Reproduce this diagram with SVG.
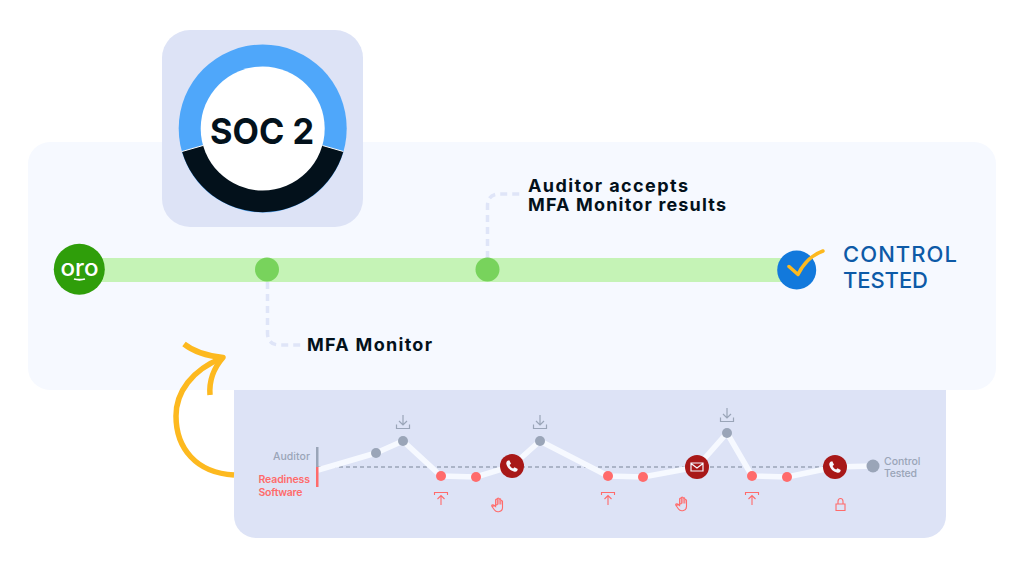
<svg xmlns="http://www.w3.org/2000/svg" width="1024" height="576" viewBox="0 0 1024 576">
<style>
text{font-family:"Inter","Liberation Sans",sans-serif}
.lab{font-size:18px;font-weight:700;fill:#03111b}
.ctl{font-size:22px;font-weight:500;fill:#0d5aa7}
.g{font-size:10.500px;font-weight:500;fill:#9aa5b8}
.r{font-size:10.500px;font-weight:600;fill:#ff6b6b}
.dash{fill:none;stroke:#dfe5f8;stroke-width:3.500;stroke-dasharray:7 5}
.wl{fill:none;stroke:#f6f9ff;stroke-width:5.500;stroke-linejoin:round}
.gd{fill:#9aa5b8}.rd{fill:#ff6b6b}.dr{fill:#a81818}.gn{fill:#78d35c}
.ig{fill:none;stroke:#9aa5b8;stroke-width:1.200}
.ir{fill:none;stroke:#ff6b6b;stroke-width:1.100}
.iw{fill:none;stroke:#f6f9ff;stroke-width:1.200}
</style>
<defs>
<g id="dl"><path d="M-6.500 2.500V6.500H6.500V2.500M0 -7V3M-4 -1L0 3L4 -1"/></g>
<g id="ul"><path d="M-6.500 -3.500V-6H6.500V-3.500M0 6.500V-3M-3.500 0.500L0 -3L3.500 0.500"/></g>
<g id="hand"><path d="M-5 1.500L-2.500 5C-1.500 6.500 0.500 7 2.500 6.500C4.500 6 5.500 4.500 5.500 2.500V-3.500C5.500 -4.800 3.800 -4.800 3.800 -3.500V-0.500M3.800 -0.500V-5.200C3.800 -6.400 2 -6.400 2 -5.200V-0.500M2 -0.500V-6C2 -7.300 0.300 -7.300 0.300 -6V-0.500M0.300 -0.500V-5C0.300 -6.200 -1.400 -6.200 -1.400 -5V1.500L-3.300 0C-4.500 -0.800 -5.800 0.300 -5 1.500Z"/></g>
<path id="ph" d="M-4.500 -5.200L-2.700 -5.800L-1 -2.300L-2.400 -1C-1.600 0.800 -0.600 1.800 1.200 2.500L2.500 1.200L5.800 3L5.200 4.800C4.600 5.800 3.200 6 1.800 5.600C-2 4.500 -4.600 1.800 -5.600 -1.800C-6 -3.200 -5.500 -4.400 -4.500 -5.200Z" fill="#f6f9ff"/>
</defs>

<g id="main-panel"><rect x="28" y="142" width="968" height="248" rx="22" fill="#f6f9ff"/></g>
<g id="chart-panel"><path d="M234 390H946V516A22 22 0 0 1 924 538H256A22 22 0 0 1 234 516Z" fill="#dde3f6"/></g>

<g id="soc2">
<rect x="162" y="30" width="201" height="197" rx="28" fill="#dde3f6"/>
<circle cx="262.700" cy="128.500" r="84" fill="#4fa7fa"/>
<path d="M182 151.500A84 84 0 0 0 343.400 151.500L322.500 145.500H202.900Z" fill="#03111b"/>
<path d="M182 151.500L203 145.500M343.400 151.500L322.500 145.500" stroke="#fff" stroke-width="1"/>
<circle cx="262.700" cy="128.500" r="62" fill="#fff"/>
<text x="262" y="144" text-anchor="middle" font-size="36" font-weight="700" fill="#03111b" textLength="104" lengthAdjust="spacingAndGlyphs">SOC 2</text>
</g>

<g id="connectors">
<rect x="100" y="258" width="690" height="24" fill="#c5f3b6"/>
<path class="dash" d="M267.500 282V333Q267.500 345 280 345H303"/>
<path class="dash" d="M487.500 258V206Q487.500 194 500 194H523"/>
<path d="M234 475C196 473 176 448 176 416C176 392 192 370 222 358" fill="none" stroke="#fdb91f" stroke-width="5.500"/>
<path d="M184 344C194 352 208 356 223 357.500C212 370 209 382 210 395" fill="none" stroke="#fdb91f" stroke-width="5.500" stroke-linejoin="round"/>
<path d="M318 467H850" fill="none" stroke="#9aa5b8" stroke-width="1.500" stroke-dasharray="4 3"/>
<polyline class="wl" points="318,470 376,453 403,441 441,476 476,477 512,466 540,441 608,476 643,477 697,467 727,433 752,476 787,477 835,467 873,466"/>
</g>

<g id="oro">
<circle cx="79.300" cy="269.300" r="25.500" fill="#2f9e0a"/>
<text x="79.500" y="275.500" text-anchor="middle" font-size="23" font-weight="500" fill="#fff" textLength="38" lengthAdjust="spacingAndGlyphs">oro</text>
<path d="M74 279Q79.500 280.500 85 279" fill="none" stroke="#fff" stroke-width="1.800"/>
</g>
<g id="step-mfa"><circle class="gn" cx="267" cy="269.500" r="12"/><text class="lab" x="307" y="351" textLength="125">MFA Monitor</text></g>
<g id="step-auditor"><circle class="gn" cx="487.500" cy="269.500" r="12"/><text class="lab" x="528" y="192" textLength="160">Auditor accepts</text><text class="lab" x="528" y="211" textLength="198">MFA Monitor results</text></g>
<g id="control-tested">
<circle cx="796.700" cy="270" r="19.500" fill="#1279dc"/>
<path d="M789 266.500L798 274.500C804 262 812 255 823 251" fill="none" stroke="#fdb91f" stroke-width="3.500" stroke-linecap="round" stroke-linejoin="round"/>
<text class="ctl" x="843" y="262" textLength="114">CONTROL</text>
<text class="ctl" x="843" y="288" textLength="85">TESTED</text>
</g>

<g id="chart-labels">
<text class="g" x="273" y="460" textLength="37">Auditor</text>
<text class="r" x="258.500" y="483" textLength="51.500">Readiness</text>
<text class="r" x="258.500" y="496" textLength="44">Software</text>
<rect x="316" y="447" width="2.500" height="20" fill="#9aa5b8"/>
<rect x="316" y="467" width="2.500" height="20" fill="#ff6b6b"/>
<text class="g" x="884" y="464.500" textLength="36.500">Control</text>
<text class="g" x="884" y="477" textLength="33">Tested</text>
</g>

<g id="chart-dots">
<circle class="gd" cx="376" cy="453" r="5"/><circle class="gd" cx="403" cy="441" r="5"/><circle class="gd" cx="540" cy="441" r="5"/><circle class="gd" cx="727" cy="433" r="5"/><circle class="gd" cx="873" cy="466" r="6.500"/>
<circle class="rd" cx="441" cy="476" r="5"/><circle class="rd" cx="476" cy="477" r="5"/><circle class="rd" cx="608" cy="476" r="5"/><circle class="rd" cx="643" cy="477" r="5"/><circle class="rd" cx="752" cy="476" r="5"/><circle class="rd" cx="787" cy="477" r="5"/>
</g>
<g id="call-1"><circle class="dr" cx="512" cy="466" r="12"/><use href="#ph" x="512" y="466"/></g>
<g id="mail-1"><circle class="dr" cx="697" cy="467" r="12"/><path class="iw" d="M691 463H703V471H691ZM691 463.500L697 468L703 463.500"/></g>
<g id="call-2"><circle class="dr" cx="835" cy="467" r="12"/><use href="#ph" x="835" y="467"/></g>
<g id="icons">
<use href="#dl" class="ig" x="403" y="422"/><use href="#dl" class="ig" x="540" y="422"/><use href="#dl" class="ig" x="727" y="415"/>
<use href="#ul" class="ir" x="441" y="498.500"/><use href="#ul" class="ir" x="608" y="498.500"/><use href="#ul" class="ir" x="752" y="498.500"/>
<use href="#hand" class="ir" x="497" y="505"/><use href="#hand" class="ir" x="681" y="504"/>
<path class="ir" d="M836 504H845V510.500H836ZM838 504V501.500C838 497.500 843 497.500 843 501.500V504"/>
</g>
</svg>
